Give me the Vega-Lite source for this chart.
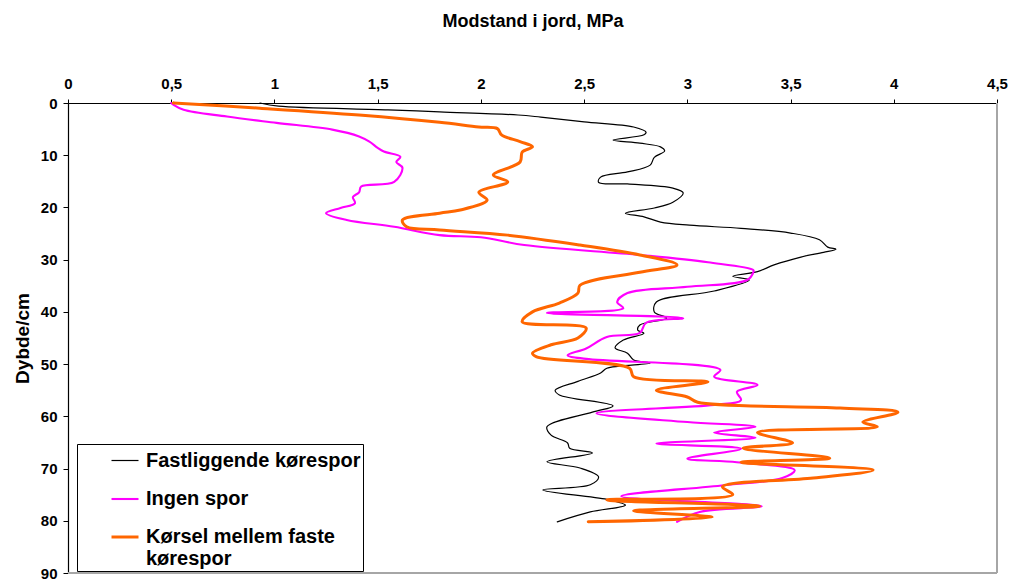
{
  "$schema": "https://vega.github.io/schema/vega-lite/v6.json",
  "width": 929,
  "height": 470,
  "autosize": {"type": "none"},
  "padding": {"left": 68, "top": 103, "right": 18, "bottom": 11},
  "background": "white",
  "config": {
    "view": {"stroke": null},
    "font": "Liberation Sans"
  },
  "datasets": {
    "profiles": [
      {"s": "Fastliggende kørespor", "d": 0, "v": 0.93},
      {"s": "Fastliggende kørespor", "d": 0.6, "v": 1.02},
      {"s": "Fastliggende kørespor", "d": 1.3, "v": 1.55},
      {"s": "Fastliggende kørespor", "d": 1.7, "v": 1.8},
      {"s": "Fastliggende kørespor", "d": 2.3, "v": 2.18},
      {"s": "Fastliggende kørespor", "d": 2.7, "v": 2.29},
      {"s": "Fastliggende kørespor", "d": 3.6, "v": 2.5},
      {"s": "Fastliggende kørespor", "d": 4.6, "v": 2.74},
      {"s": "Fastliggende kørespor", "d": 5.6, "v": 2.8},
      {"s": "Fastliggende kørespor", "d": 6.1, "v": 2.79},
      {"s": "Fastliggende kørespor", "d": 7.1, "v": 2.64},
      {"s": "Fastliggende kørespor", "d": 7.7, "v": 2.77},
      {"s": "Fastliggende kørespor", "d": 8.4, "v": 2.87},
      {"s": "Fastliggende kørespor", "d": 9.2, "v": 2.89},
      {"s": "Fastliggende kørespor", "d": 10.4, "v": 2.84},
      {"s": "Fastliggende kørespor", "d": 11.9, "v": 2.82},
      {"s": "Fastliggende kørespor", "d": 13.2, "v": 2.71},
      {"s": "Fastliggende kørespor", "d": 14.2, "v": 2.58},
      {"s": "Fastliggende kørespor", "d": 15.2, "v": 2.57},
      {"s": "Fastliggende kørespor", "d": 15.5, "v": 2.71},
      {"s": "Fastliggende kørespor", "d": 16.3, "v": 2.93},
      {"s": "Fastliggende kørespor", "d": 17.2, "v": 2.98},
      {"s": "Fastliggende kørespor", "d": 19.0, "v": 2.93},
      {"s": "Fastliggende kørespor", "d": 20.1, "v": 2.84},
      {"s": "Fastliggende kørespor", "d": 21.1, "v": 2.7},
      {"s": "Fastliggende kørespor", "d": 21.8, "v": 2.79},
      {"s": "Fastliggende kørespor", "d": 22.8, "v": 2.87},
      {"s": "Fastliggende kørespor", "d": 23.4, "v": 3.01},
      {"s": "Fastliggende kørespor", "d": 24.0, "v": 3.26},
      {"s": "Fastliggende kørespor", "d": 24.9, "v": 3.5},
      {"s": "Fastliggende kørespor", "d": 26.2, "v": 3.64},
      {"s": "Fastliggende kørespor", "d": 27.6, "v": 3.68},
      {"s": "Fastliggende kørespor", "d": 28.0, "v": 3.72},
      {"s": "Fastliggende kørespor", "d": 28.6, "v": 3.66},
      {"s": "Fastliggende kørespor", "d": 29.5, "v": 3.55},
      {"s": "Fastliggende kørespor", "d": 31.0, "v": 3.42},
      {"s": "Fastliggende kørespor", "d": 32.3, "v": 3.34},
      {"s": "Fastliggende kørespor", "d": 33.2, "v": 3.22},
      {"s": "Fastliggende kørespor", "d": 33.9, "v": 3.3},
      {"s": "Fastliggende kørespor", "d": 36.0, "v": 3.13},
      {"s": "Fastliggende kørespor", "d": 38.1, "v": 2.85},
      {"s": "Fastliggende kørespor", "d": 40.0, "v": 2.84},
      {"s": "Fastliggende kørespor", "d": 41.2, "v": 2.9},
      {"s": "Fastliggende kørespor", "d": 42.5, "v": 2.77},
      {"s": "Fastliggende kørespor", "d": 43.5, "v": 2.76},
      {"s": "Fastliggende kørespor", "d": 44.1, "v": 2.79},
      {"s": "Fastliggende kørespor", "d": 45.4, "v": 2.69},
      {"s": "Fastliggende kørespor", "d": 46.9, "v": 2.65},
      {"s": "Fastliggende kørespor", "d": 47.9, "v": 2.71},
      {"s": "Fastliggende kørespor", "d": 49.2, "v": 2.74},
      {"s": "Fastliggende kørespor", "d": 49.8, "v": 2.82},
      {"s": "Fastliggende kørespor", "d": 50.8, "v": 2.61},
      {"s": "Fastliggende kørespor", "d": 51.7, "v": 2.58},
      {"s": "Fastliggende kørespor", "d": 53.3, "v": 2.47},
      {"s": "Fastliggende kørespor", "d": 55.0, "v": 2.36},
      {"s": "Fastliggende kørespor", "d": 55.9, "v": 2.38},
      {"s": "Fastliggende kørespor", "d": 58.0, "v": 2.64},
      {"s": "Fastliggende kørespor", "d": 59.2, "v": 2.54},
      {"s": "Fastliggende kørespor", "d": 62.0, "v": 2.32},
      {"s": "Fastliggende kørespor", "d": 63.6, "v": 2.34},
      {"s": "Fastliggende kørespor", "d": 65.1, "v": 2.42},
      {"s": "Fastliggende kørespor", "d": 66.1, "v": 2.43},
      {"s": "Fastliggende kørespor", "d": 67.0, "v": 2.54},
      {"s": "Fastliggende kørespor", "d": 68.7, "v": 2.32},
      {"s": "Fastliggende kørespor", "d": 69.9, "v": 2.48},
      {"s": "Fastliggende kørespor", "d": 71.6, "v": 2.57},
      {"s": "Fastliggende kørespor", "d": 73.1, "v": 2.53},
      {"s": "Fastliggende kørespor", "d": 74.1, "v": 2.3},
      {"s": "Fastliggende kørespor", "d": 75.9, "v": 2.61},
      {"s": "Fastliggende kørespor", "d": 77.0, "v": 2.7},
      {"s": "Fastliggende kørespor", "d": 78.3, "v": 2.53},
      {"s": "Fastliggende kørespor", "d": 80.2, "v": 2.37},

      {"s": "Ingen spor", "d": 0, "v": 0.5},
      {"s": "Ingen spor", "d": 0.3, "v": 0.51},
      {"s": "Ingen spor", "d": 1.3, "v": 0.56},
      {"s": "Ingen spor", "d": 2.6, "v": 0.77},
      {"s": "Ingen spor", "d": 3.8, "v": 1.01},
      {"s": "Ingen spor", "d": 5.1, "v": 1.28},
      {"s": "Ingen spor", "d": 6.4, "v": 1.41},
      {"s": "Ingen spor", "d": 7.4, "v": 1.46},
      {"s": "Ingen spor", "d": 8.6, "v": 1.5},
      {"s": "Ingen spor", "d": 9.3, "v": 1.53},
      {"s": "Ingen spor", "d": 10.3, "v": 1.61},
      {"s": "Ingen spor", "d": 11.3, "v": 1.59},
      {"s": "Ingen spor", "d": 12.4, "v": 1.62},
      {"s": "Ingen spor", "d": 15.1, "v": 1.58},
      {"s": "Ingen spor", "d": 16.0, "v": 1.42},
      {"s": "Ingen spor", "d": 17.1, "v": 1.41},
      {"s": "Ingen spor", "d": 18.0, "v": 1.38},
      {"s": "Ingen spor", "d": 19.2, "v": 1.39},
      {"s": "Ingen spor", "d": 20.1, "v": 1.32},
      {"s": "Ingen spor", "d": 21.1, "v": 1.25},
      {"s": "Ingen spor", "d": 22.4, "v": 1.35},
      {"s": "Ingen spor", "d": 23.7, "v": 1.58},
      {"s": "Ingen spor", "d": 25.3, "v": 1.8},
      {"s": "Ingen spor", "d": 25.7, "v": 2.0},
      {"s": "Ingen spor", "d": 27.2, "v": 2.21},
      {"s": "Ingen spor", "d": 29.1, "v": 2.77},
      {"s": "Ingen spor", "d": 30.5, "v": 3.1},
      {"s": "Ingen spor", "d": 32.0, "v": 3.32},
      {"s": "Ingen spor", "d": 32.4, "v": 3.32},
      {"s": "Ingen spor", "d": 33.9, "v": 3.29},
      {"s": "Ingen spor", "d": 35.2, "v": 3.0},
      {"s": "Ingen spor", "d": 36.4, "v": 2.71},
      {"s": "Ingen spor", "d": 38.1, "v": 2.66},
      {"s": "Ingen spor", "d": 39.3, "v": 2.69},
      {"s": "Ingen spor", "d": 40.2, "v": 2.32},
      {"s": "Ingen spor", "d": 41.2, "v": 2.98},
      {"s": "Ingen spor", "d": 42.1, "v": 2.8},
      {"s": "Ingen spor", "d": 44.0, "v": 2.77},
      {"s": "Ingen spor", "d": 44.8, "v": 2.61},
      {"s": "Ingen spor", "d": 47.0, "v": 2.51},
      {"s": "Ingen spor", "d": 48.3, "v": 2.42},
      {"s": "Ingen spor", "d": 49.0, "v": 2.51},
      {"s": "Ingen spor", "d": 51.1, "v": 3.16},
      {"s": "Ingen spor", "d": 52.4, "v": 3.13},
      {"s": "Ingen spor", "d": 54.0, "v": 3.34},
      {"s": "Ingen spor", "d": 55.3, "v": 3.24},
      {"s": "Ingen spor", "d": 56.9, "v": 3.26},
      {"s": "Ingen spor", "d": 57.8, "v": 3.13},
      {"s": "Ingen spor", "d": 59.4, "v": 2.56},
      {"s": "Ingen spor", "d": 61.1, "v": 3.0},
      {"s": "Ingen spor", "d": 62.0, "v": 3.33},
      {"s": "Ingen spor", "d": 63.1, "v": 3.13},
      {"s": "Ingen spor", "d": 64.1, "v": 3.33},
      {"s": "Ingen spor", "d": 65.2, "v": 2.85},
      {"s": "Ingen spor", "d": 66.2, "v": 3.26},
      {"s": "Ingen spor", "d": 68.1, "v": 3.0},
      {"s": "Ingen spor", "d": 68.8, "v": 3.24},
      {"s": "Ingen spor", "d": 70.3, "v": 3.52},
      {"s": "Ingen spor", "d": 71.8, "v": 3.46},
      {"s": "Ingen spor", "d": 73.2, "v": 3.18},
      {"s": "Ingen spor", "d": 75.3, "v": 2.68},
      {"s": "Ingen spor", "d": 77.2, "v": 3.36},
      {"s": "Ingen spor", "d": 78.3, "v": 3.06},
      {"s": "Ingen spor", "d": 80.2, "v": 2.95},

      {"s": "Kørsel mellem faste kørespor", "d": 0, "v": 0.51},
      {"s": "Kørsel mellem faste kørespor", "d": 1.0, "v": 0.93},
      {"s": "Kørsel mellem faste kørespor", "d": 2.3, "v": 1.41},
      {"s": "Kørsel mellem faste kørespor", "d": 3.7, "v": 1.8},
      {"s": "Kørsel mellem faste kørespor", "d": 4.6, "v": 1.99},
      {"s": "Kørsel mellem faste kørespor", "d": 4.9, "v": 2.08},
      {"s": "Kørsel mellem faste kørespor", "d": 6.1, "v": 2.1},
      {"s": "Kørsel mellem faste kørespor", "d": 7.4, "v": 2.19},
      {"s": "Kørsel mellem faste kørespor", "d": 8.4, "v": 2.25},
      {"s": "Kørsel mellem faste kørespor", "d": 9.4, "v": 2.2},
      {"s": "Kørsel mellem faste kørespor", "d": 11.3, "v": 2.19},
      {"s": "Kørsel mellem faste kørespor", "d": 13.8, "v": 2.06},
      {"s": "Kørsel mellem faste kørespor", "d": 15.1, "v": 2.13},
      {"s": "Kørsel mellem faste kørespor", "d": 17.1, "v": 1.99},
      {"s": "Kørsel mellem faste kørespor", "d": 18.6, "v": 2.03},
      {"s": "Kørsel mellem faste kørespor", "d": 20.5, "v": 1.9},
      {"s": "Kørsel mellem faste kørespor", "d": 21.1, "v": 1.8},
      {"s": "Kørsel mellem faste kørespor", "d": 22.4, "v": 1.62},
      {"s": "Kørsel mellem faste kørespor", "d": 23.7, "v": 1.64},
      {"s": "Kørsel mellem faste kørespor", "d": 24.3, "v": 1.8},
      {"s": "Kørsel mellem faste kørespor", "d": 25.3, "v": 2.13},
      {"s": "Kørsel mellem faste kørespor", "d": 27.2, "v": 2.48},
      {"s": "Kørsel mellem faste kørespor", "d": 29.1, "v": 2.77},
      {"s": "Kørsel mellem faste kørespor", "d": 31.0, "v": 2.95},
      {"s": "Kørsel mellem faste kørespor", "d": 32.4, "v": 2.77},
      {"s": "Kørsel mellem faste kørespor", "d": 34.9, "v": 2.48},
      {"s": "Kørsel mellem faste kørespor", "d": 36.4, "v": 2.47},
      {"s": "Kørsel mellem faste kørespor", "d": 38.3, "v": 2.38},
      {"s": "Kørsel mellem faste kørespor", "d": 40.0, "v": 2.25},
      {"s": "Kørsel mellem faste kørespor", "d": 41.9, "v": 2.2},
      {"s": "Kørsel mellem faste kørespor", "d": 43.1, "v": 2.51},
      {"s": "Kørsel mellem faste kørespor", "d": 45.0, "v": 2.47},
      {"s": "Kørsel mellem faste kørespor", "d": 46.3, "v": 2.34},
      {"s": "Kørsel mellem faste kørespor", "d": 47.9, "v": 2.25},
      {"s": "Kørsel mellem faste kørespor", "d": 48.6, "v": 2.27},
      {"s": "Kørsel mellem faste kørespor", "d": 50.8, "v": 2.72},
      {"s": "Kørsel mellem faste kørespor", "d": 52.4, "v": 2.74},
      {"s": "Kørsel mellem faste kørespor", "d": 53.4, "v": 3.1},
      {"s": "Kørsel mellem faste kørespor", "d": 55.0, "v": 2.85},
      {"s": "Kørsel mellem faste kørespor", "d": 56.3, "v": 3.0},
      {"s": "Kørsel mellem faste kørespor", "d": 57.3, "v": 3.05},
      {"s": "Kørsel mellem faste kørespor", "d": 58.4, "v": 3.74},
      {"s": "Kørsel mellem faste kørespor", "d": 59.2, "v": 4.02},
      {"s": "Kørsel mellem faste kørespor", "d": 61.1, "v": 3.85},
      {"s": "Kørsel mellem faste kørespor", "d": 62.0, "v": 3.92},
      {"s": "Kørsel mellem faste kørespor", "d": 63.1, "v": 3.34},
      {"s": "Kørsel mellem faste kørespor", "d": 65.1, "v": 3.51},
      {"s": "Kørsel mellem faste kørespor", "d": 66.1, "v": 3.27},
      {"s": "Kørsel mellem faste kørespor", "d": 68.0, "v": 3.69},
      {"s": "Kørsel mellem faste kørespor", "d": 68.8, "v": 3.26},
      {"s": "Kørsel mellem faste kørespor", "d": 70.3, "v": 3.9},
      {"s": "Kørsel mellem faste kørespor", "d": 71.8, "v": 3.61},
      {"s": "Kørsel mellem faste kørespor", "d": 73.5, "v": 3.17},
      {"s": "Kørsel mellem faste kørespor", "d": 75.0, "v": 3.22},
      {"s": "Kørsel mellem faste kørespor", "d": 76.0, "v": 2.61},
      {"s": "Kørsel mellem faste kørespor", "d": 77.2, "v": 3.35},
      {"s": "Kørsel mellem faste kørespor", "d": 78.1, "v": 2.74},
      {"s": "Kørsel mellem faste kørespor", "d": 79.3, "v": 3.12},
      {"s": "Kørsel mellem faste kørespor", "d": 80.2, "v": 2.52}
    ]
  },
  "data": {"name": "profiles"},
  "layer": [
    {
      "mark": {"type": "rule", "color": "#a6a6a6", "strokeWidth": 1.5},
      "encoding": {"y": {"datum": 90, "type": "quantitative"}}
    },
    {
      "mark": {"type": "rule", "color": "#a6a6a6", "strokeWidth": 1.5},
      "encoding": {"x": {"datum": 4.5, "type": "quantitative"}}
    },
    {
      "mark": {"type": "line", "interpolate": "catmull-rom", "strokeJoin": "round", "strokeCap": "round"},
      "encoding": {
        "x": {
          "field": "v",
          "type": "quantitative",
          "scale": {"domain": [0, 4.5], "nice": false, "zero": false},
          "axis": {
            "orient": "top",
            "title": "Modstand i jord, MPa",
            "values": [0, 0.5, 1, 1.5, 2, 2.5, 3, 3.5, 4, 4.5],
            "labelExpr": "replace(toString(datum.value), '.', ',')",
            "grid": false,
            "domainColor": "#000000",
            "domainWidth": 1.2,
            "tickColor": "#000000",
            "tickSize": 4,
            "labelFont": "Liberation Sans",
            "labelFontSize": 15,
            "labelFontWeight": "bold",
            "labelColor": "#000000",
            "labelPadding": 8,
            "labelFlush": false,
            "labelOverlap": false,
            "titleFont": "Liberation Sans",
            "titleFontSize": 18,
            "titleFontWeight": "bold",
            "titleColor": "#000000",
            "titlePadding": 46
          }
        },
        "y": {
          "field": "d",
          "type": "quantitative",
          "scale": {"domain": [0, 90], "reverse": true, "nice": false, "zero": false},
          "axis": {
            "title": "Dybde/cm",
            "values": [0, 10, 20, 30, 40, 50, 60, 70, 80, 90],
            "grid": false,
            "domainColor": "#000000",
            "domainWidth": 1.2,
            "tickColor": "#000000",
            "tickSize": 5,
            "labelFont": "Liberation Sans",
            "labelFontSize": 15,
            "labelFontWeight": "bold",
            "labelColor": "#000000",
            "labelPadding": 6,
            "labelFlush": false,
            "labelOverlap": false,
            "titleFont": "Liberation Sans",
            "titleFontSize": 19,
            "titleFontWeight": "bold",
            "titleColor": "#000000",
            "titlePadding": 8
          }
        },
        "color": {
          "field": "s",
          "type": "nominal",
          "scale": {
            "domain": ["Fastliggende kørespor", "Ingen spor", "Kørsel mellem faste kørespor"],
            "range": ["#000000", "#ff00ff", "#ff6600"]
          },
          "legend": {
            "title": null,
            "orient": "none",
            "legendX": 9,
            "legendY": 341,
            "direction": "vertical",
            "fillColor": "#ffffff",
            "strokeColor": "#000000",
            "padding": 2,
            "symbolType": "stroke",
            "symbolSize": 729,
            "symbolOffset": 31,
            "labelOffset": 6,
            "rowPadding": 13,
            "labelFont": "Liberation Sans",
            "labelFontSize": 20,
            "labelFontWeight": "bold",
            "labelColor": "#000000",
            "labelLimit": 400,
            "labelExpr": "datum.label == 'Kørsel mellem faste kørespor' ? ['Kørsel mellem faste', 'kørespor'] : datum.label"
          }
        },
        "strokeWidth": {
          "field": "s",
          "type": "nominal",
          "scale": {
            "domain": ["Fastliggende kørespor", "Ingen spor", "Kørsel mellem faste kørespor"],
            "range": [1.2, 3, 6]
          },
          "legend": {
            "title": null,
            "orient": "none",
            "legendX": 9,
            "legendY": 341,
            "direction": "vertical",
            "fillColor": "#ffffff",
            "strokeColor": "#000000",
            "padding": 2,
            "symbolType": "stroke",
            "symbolSize": 729,
            "symbolOffset": 31,
            "labelOffset": 6,
            "rowPadding": 13,
            "labelFont": "Liberation Sans",
            "labelFontSize": 20,
            "labelFontWeight": "bold",
            "labelColor": "#000000",
            "labelLimit": 400,
            "labelExpr": "datum.label == 'Kørsel mellem faste kørespor' ? ['Kørsel mellem faste', 'kørespor'] : datum.label"
          }
        },
        "order": {"field": "d", "type": "quantitative"}
      }
    }
  ]
}
